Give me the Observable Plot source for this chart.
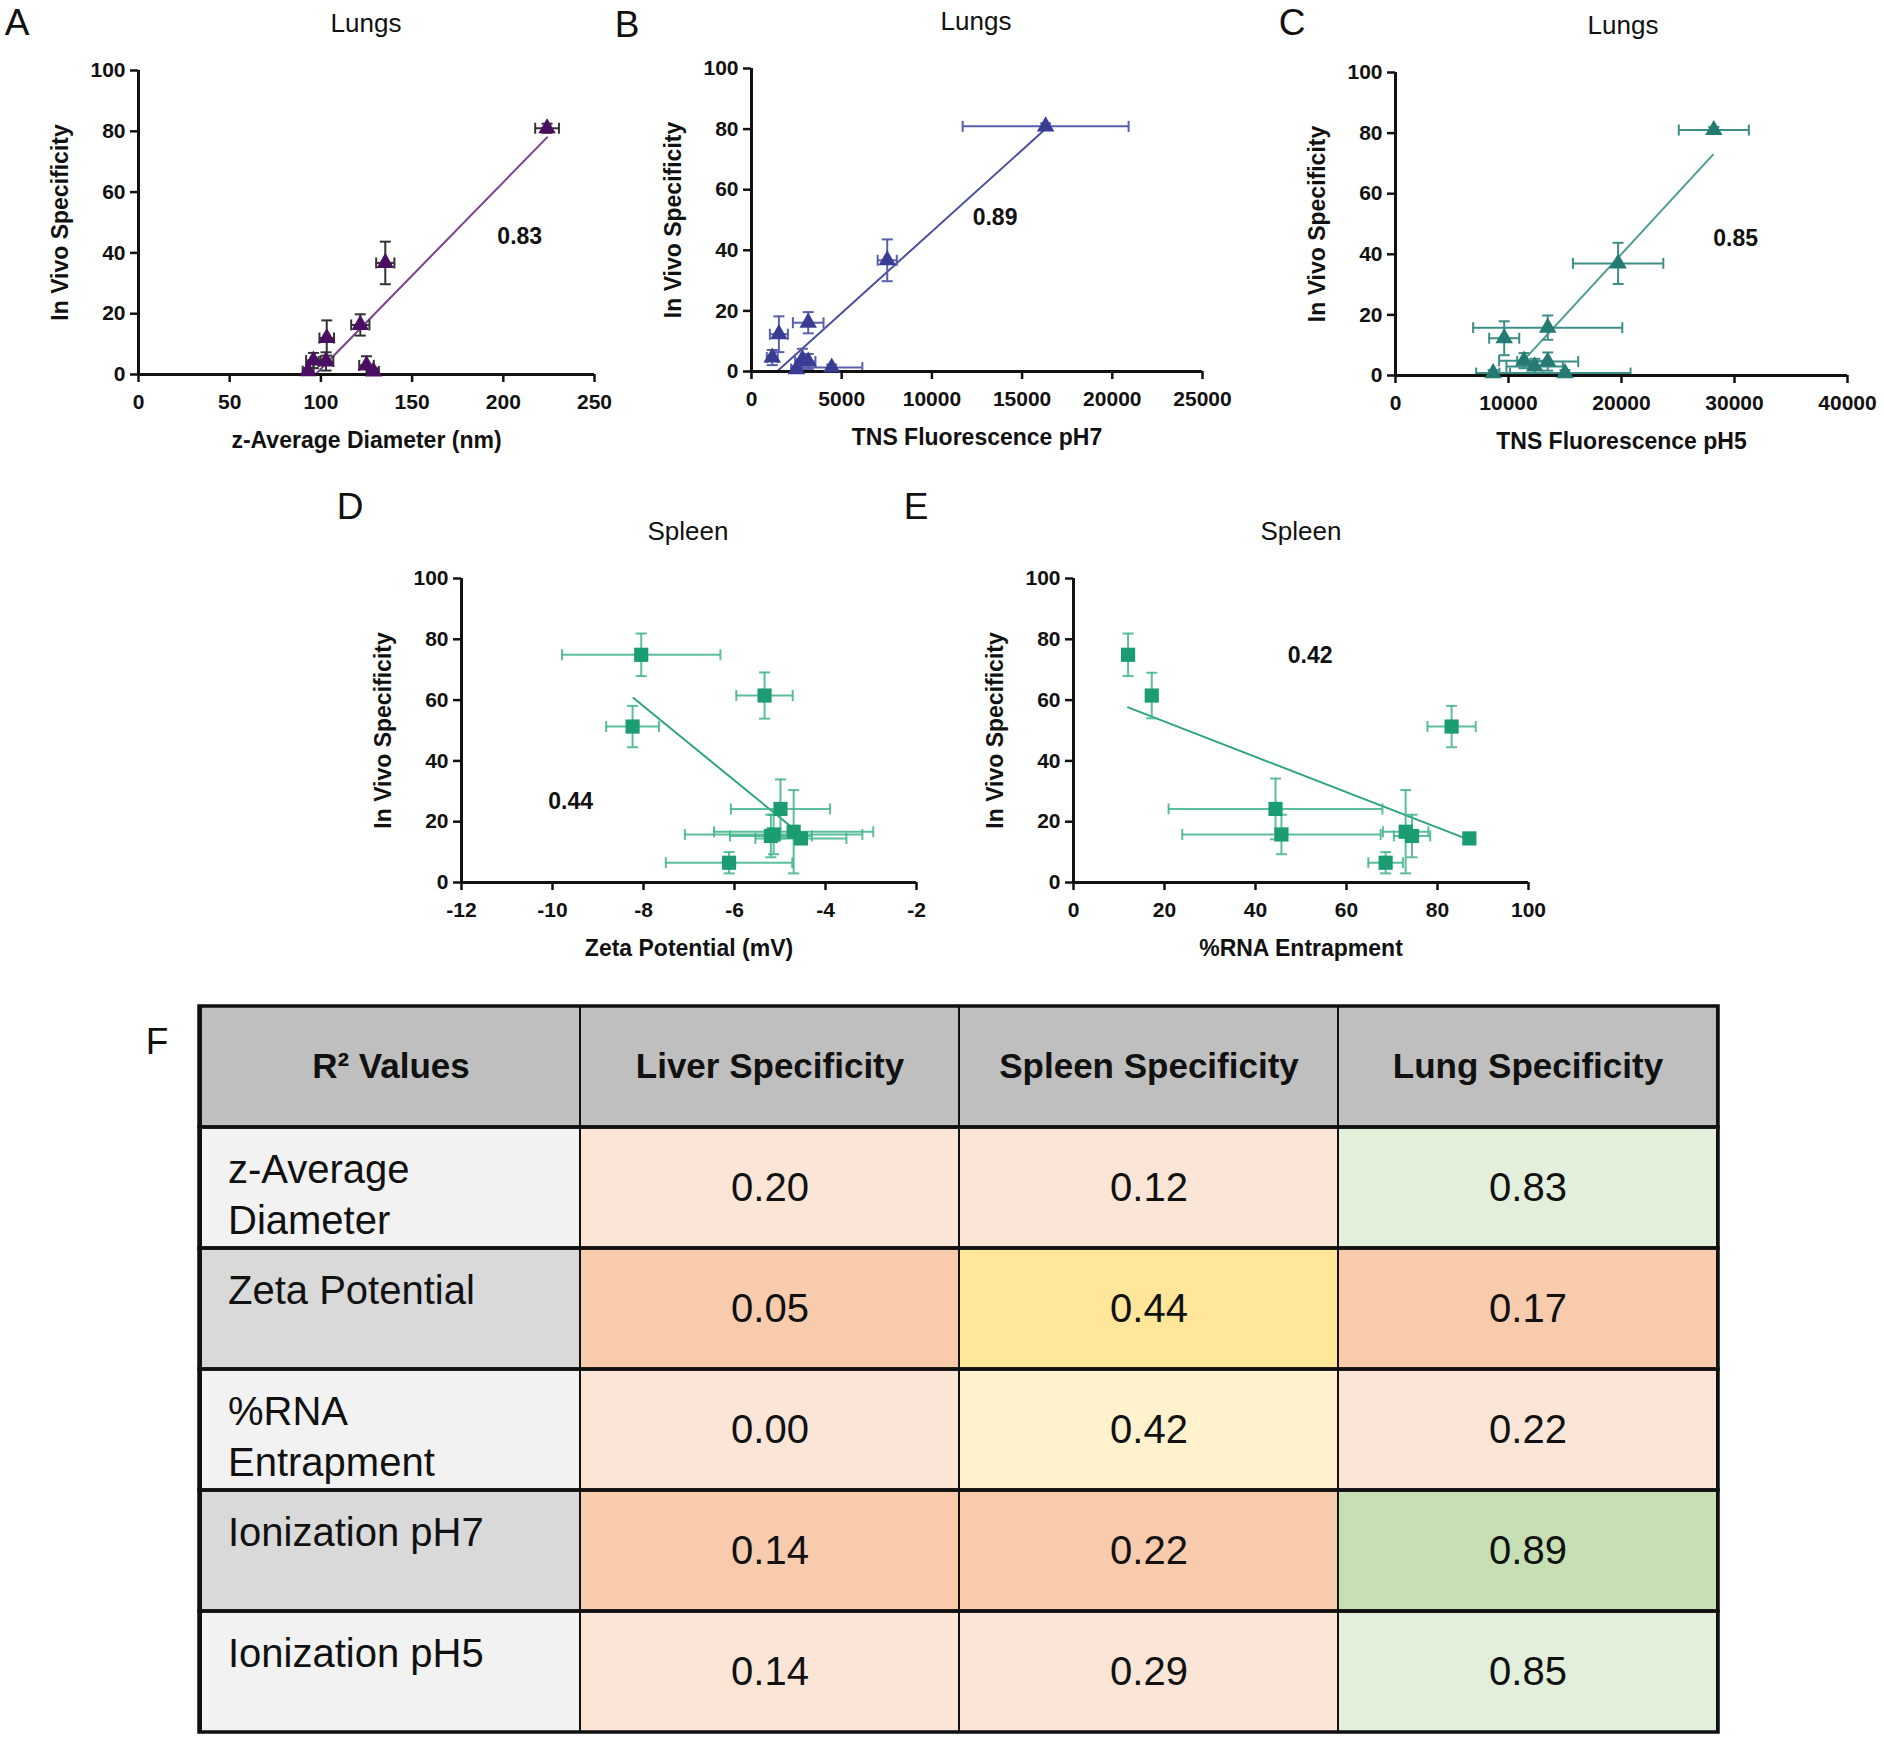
<!DOCTYPE html>
<html>
<head>
<meta charset="utf-8">
<script src="https://cdn.jsdelivr.net/npm/d3@7"></script>
<script src="https://cdn.jsdelivr.net/npm/@observablehq/plot@0.6"></script>
<style>
  body { margin: 0; background: #fff; }
  #root { position: relative; width: 1884px; height: 1739px; overflow: hidden; font-family: "Liberation Sans", Arial, sans-serif; color: #111; }
  .lbl { position: absolute; transform: translate(-50%, -50%); white-space: nowrap; line-height: 1; }
  .panel { position: absolute; }
  .panel svg { max-width: none !important; overflow: visible; }
</style>
</head>
<body>
<div id="root"></div>
<script>
// ---------------- DATA ----------------
const yTicks = [0, 20, 40, 60, 80, 100];
const yAxisLabel = "In Vivo Specificity";

// Panel A – Lungs vs z-Average Diameter
const aTicks = [0, 50, 100, 150, 200, 250];
const aX    = [224, 135.3, 121.6, 103.2, 95.9, 102.8, 93, 125, 128.8];
const aY    = [81, 36.7, 16.3, 12, 4.6, 4.3, 1.1, 3, 1];
const aXErr = [6.5, 5, 5, 4, 4, 4, 3, 4, 3];
const aYErr = [1.5, 7, 3.5, 5.8, 2.5, 3, 1, 3, 1];
const aFitX = [97, 224];
const aFitY = [0, 78];

// Panel B – Lungs vs TNS Fluorescence pH7
const bTicks = [0, 5000, 10000, 15000, 20000, 25000];
const bX    = [16305, 7524, 3144, 1518, 1149, 2819, 3144, 2494, 4445];
const bY    = [80.9, 36.7, 16.1, 12.3, 4.6, 4, 3.3, 0.8, 1.3];
const bXErr = [4600, 530, 850, 500, 300, 400, 400, 300, 1700];
const bYErr = [1, 6.9, 3.5, 5.9, 2.5, 3.5, 2.5, 1, 1];
const bFitX = [1409, 16305];
const bFitY = [0, 80.1];

// Panel C – Lungs vs TNS Fluorescence pH5
const cTicks = [0, 10000, 20000, 30000, 40000];
const cX    = [28170, 19700, 13470, 9620, 11370, 13470, 12320, 8640, 15000];
const cY    = [81, 37, 15.8, 12.3, 4.9, 4.6, 3, 0.8, 0.8];
const cXErr = [3100, 4000, 6600, 1330, 2200, 2700, 2500, 1500, 5800];
const cYErr = [1, 6.8, 4, 5.6, 2.5, 3, 2.5, 1, 1];
const cFitX = [11700, 28100];
const cFitY = [6.5, 72.9];

// Panel D – Spleen vs Zeta Potential
const dTicks = [-12, -10, -8, -6, -4, -2];
const dX    = [-8.05, -5.34, -8.24, -4.99, -5.14, -4.7, -5.2, -4.54, -6.12];
const dY    = [74.9, 61.5, 51.3, 24.2, 15.8, 16.7, 15.3, 14.5, 6.5];
const dXErr = [1.74, 0.62, 0.58, 1.09, 1.95, 1.75, 0.9, 1.0, 1.39];
const dYErr = [7, 7.6, 6.8, 9.7, 6.5, 13.7, 7, 1, 3.5];
const dFitX = [-8.22, -4.76];
const dFitY = [60.7, 18.4];

// Panel E – Spleen vs %RNA Entrapment
const eTicks = [0, 20, 40, 60, 80, 100];
const eX    = [12, 17.2, 83.1, 44.4, 45.7, 73, 74.4, 87, 68.6];
const eY    = [74.9, 61.5, 51.3, 24.2, 15.8, 16.7, 15.3, 14.5, 6.5];
const eXErr = [1.2, 1, 5.3, 23.5, 21.8, 5, 4, 1.2, 3.8];
const eYErr = [7, 7.5, 6.8, 10, 6.5, 13.7, 7, 1, 3.5];
const eFitX = [12, 86.7];
const eFitY = [57.6, 14.2];

// Table F – R² values
const tableCols = ["R² Values", "Liver Specificity", "Spleen Specificity", "Lung Specificity"];
const tableRows = ["z-Average\nDiameter", "Zeta Potential", "%RNA\nEntrapment", "Ionization pH7", "Ionization pH5"];
const liverR2  = [0.20, 0.05, 0.00, 0.14, 0.14];
const spleenR2 = [0.12, 0.44, 0.42, 0.22, 0.29];
const lungR2   = [0.83, 0.17, 0.22, 0.89, 0.85];

// ---------------- RENDER ----------------
const root = document.getElementById("root");
const FONT = "'Liberation Sans', Arial, sans-serif";

function addLabel(text, x, y, size, weight) {
  const d = document.createElement("div");
  d.className = "lbl";
  d.textContent = text;
  d.style.left = x + "px";
  d.style.top = y + "px";
  d.style.fontSize = size + "px";
  d.style.fontWeight = weight || "normal";
  root.appendChild(d);
}

const capH = { draw(ctx, size) { const r = Math.sqrt(size / Math.PI); ctx.moveTo(-r, 0); ctx.lineTo(r, 0); } };
const capV = { draw(ctx, size) { const r = Math.sqrt(size / Math.PI); ctx.moveTo(0, -r); ctx.lineTo(0, r); } };

function scatterPanel(cfg) {
  const [x0, x1, yB, yT] = cfg.frame;
  const mL = 130, mR = 38, mT = 30, mB = 90;
  const W = (x1 - x0) + mL + mR, H = (yB - yT) + mT + mB;
  const data = cfg.xs.map((x, i) => ({ x, y: cfg.ys[i], xe: cfg.xerr[i], ye: cfg.yerr[i] }));
  const fit = cfg.fitX.map((x, i) => ({ x, y: cfg.fitY[i] }));
  const xd = [cfg.ticks[0], cfg.ticks[cfg.ticks.length - 1]];
  const errStyle = { stroke: cfg.err, strokeWidth: 2, strokeOpacity: cfg.errOpacity ?? 1 };
  const svg = Plot.plot({
    width: W, height: H,
    marginLeft: mL, marginRight: mR, marginTop: mT, marginBottom: mB,
    x: { domain: xd },
    y: { domain: [0, 100] },
    style: { fontFamily: FONT, background: "transparent", overflow: "visible", maxWidth: "none", color: "#111" },
    marks: [
      Plot.axisX({ ticks: cfg.ticks, tickFormat: d => String(d), tickSize: 8, tickPadding: 12, fontSize: 21, fontWeight: "bold", strokeWidth: 2.5, label: null }),
      Plot.axisY({ ticks: yTicks, tickFormat: d => String(d), tickSize: 8, tickPadding: 5, fontSize: 21, fontWeight: "bold", strokeWidth: 2.5, label: null }),
      Plot.text([cfg.xLabel], { text: d => d, frameAnchor: "bottom", textAnchor: "middle", lineAnchor: "middle", dy: 66, fontSize: 23, fontWeight: "bold" }),
      Plot.text([yAxisLabel], { text: d => d, frameAnchor: "left", textAnchor: "middle", lineAnchor: "middle", rotate: -90, dx: -78, fontSize: 23, fontWeight: "bold" }),
      Plot.line(fit, { x: "x", y: "y", stroke: cfg.line, strokeWidth: 2 }),
      Plot.ruleX(data, { x: "x", y1: d => d.y - d.ye, y2: d => d.y + d.ye, ...errStyle, clip: true }),
      Plot.ruleY(data, { y: "y", x1: d => d.x - d.xe, x2: d => d.x + d.xe, ...errStyle, clip: true }),
      Plot.dot(data, { x: "x", y: d => d.y + d.ye, symbol: capH, r: 5.5, fill: "none", ...errStyle, clip: true }),
      Plot.dot(data, { x: "x", y: d => d.y - d.ye, symbol: capH, r: 5.5, fill: "none", ...errStyle, clip: true }),
      Plot.dot(data, { x: d => d.x + d.xe, y: "y", symbol: capV, r: 5.5, fill: "none", ...errStyle, clip: true }),
      Plot.dot(data, { x: d => d.x - d.xe, y: "y", symbol: capV, r: 5.5, fill: "none", ...errStyle, clip: true }),
      Plot.ruleY([0], { stroke: "#111", strokeWidth: 3 }),
      Plot.ruleX([xd[0]], { stroke: "#111", strokeWidth: 3 }),
      Plot.dot(data, { x: "x", y: "y", symbol: cfg.symbol, r: cfg.r, fill: cfg.marker, stroke: "none" }),
      Plot.text([cfg.r2], { text: d => d, x: cfg.r2At[0], y: cfg.r2At[1], fontSize: 23, fontWeight: "bold", fill: "#111" })
    ]
  });
  const div = document.createElement("div");
  div.className = "panel";
  div.style.left = (x0 - mL) + "px";
  div.style.top = (yT - mT) + "px";
  div.style.width = W + "px";
  div.style.height = H + "px";
  div.appendChild(svg);
  root.appendChild(div);
}

const lungTri = { symbol: "triangle", r: 6.5 };
const spleenSq = { symbol: "square", r: 8 };

scatterPanel({ frame: [138, 594, 374, 70], ticks: aTicks, xs: aX, ys: aY, xerr: aXErr, yerr: aYErr, fitX: aFitX, fitY: aFitY,
  xLabel: "z-Average Diameter (nm)", r2: "0.83", r2At: [209, 45.5], ...lungTri,
  marker: "#4a0f62", err: "#333333", line: "#7a3f8f" });
scatterPanel({ frame: [751, 1202, 371, 68], ticks: bTicks, xs: bX, ys: bY, xerr: bXErr, yerr: bYErr, fitX: bFitX, fitY: bFitY,
  xLabel: "TNS Fluorescence pH7", r2: "0.89", r2At: [13500, 50.8], ...lungTri,
  marker: "#383c93", err: "#5a5ead", line: "#4b4f9f" });
scatterPanel({ frame: [1395, 1847, 375, 72], ticks: cTicks, xs: cX, ys: cY, xerr: cXErr, yerr: cYErr, fitX: cFitX, fitY: cFitY,
  xLabel: "TNS Fluorescence pH5", r2: "0.85", r2At: [30100, 45.2], ...lungTri,
  marker: "#267a74", err: "#3d8e88", line: "#4f9d96" });
scatterPanel({ frame: [461, 916, 882, 578], ticks: dTicks, xs: dX, ys: dY, xerr: dXErr, yerr: dYErr, fitX: dFitX, fitY: dFitY,
  xLabel: "Zeta Potential (mV)", r2: "0.44", r2At: [-9.6, 26.5], ...spleenSq,
  marker: "#1c9c72", err: "#3fb389", errOpacity: 0.85, line: "#2fa47c" });
scatterPanel({ frame: [1073, 1528, 882, 578], ticks: eTicks, xs: eX, ys: eY, xerr: eXErr, yerr: eYErr, fitX: eFitX, fitY: eFitY,
  xLabel: "%RNA Entrapment", r2: "0.42", r2At: [52, 74.7], ...spleenSq,
  marker: "#1c9c72", err: "#3fb389", errOpacity: 0.85, line: "#2fa47c" });

// Panel letters and titles
addLabel("A", 17, 22, 37);
addLabel("B", 627, 24, 37);
addLabel("C", 1292, 22, 37);
addLabel("D", 350, 506, 37);
addLabel("E", 916, 506, 37);
addLabel("F", 157, 1041, 37);
addLabel("Lungs", 366, 23, 26);
addLabel("Lungs", 976, 21, 26);
addLabel("Lungs", 1623, 25, 26);
addLabel("Spleen", 688, 531, 26);
addLabel("Spleen", 1301, 531, 26);

// ---------------- TABLE ----------------
const tier = v => v >= 0.8 ? "high" : v >= 0.4 ? "mid" : "low";
const cells = [];
tableCols.forEach(c => cells.push({ col: c, row: "header", key: "header", text: c, kind: "header" }));
tableRows.forEach((r, i) => {
  const shade = i % 2 ? "dark" : "light";
  cells.push({ col: tableCols[0], row: r, key: "label-" + shade, text: r, kind: "label" });
  [liverR2, spleenR2, lungR2].forEach((arr, j) => {
    const v = arr[i];
    cells.push({ col: tableCols[j + 1], row: r, key: tier(v) + "-" + shade, text: v.toFixed(2), kind: "value" });
  });
});
const rowDomain = ["header", ...tableRows];
const tL = 190, tT = 995, tW = 1540, tH = 744;
const tableSvg = Plot.plot({
  width: tW, height: tH,
  marginLeft: 9, marginRight: 12, marginTop: 8, marginBottom: 5,
  x: { type: "band", domain: tableCols, padding: 0, axis: null },
  y: { type: "band", domain: rowDomain, padding: 0, axis: null },
  color: {
    type: "ordinal",
    domain: ["header", "label-light", "label-dark", "low-light", "low-dark", "mid-light", "mid-dark", "high-light", "high-dark"],
    range:  ["#bfbfbf", "#f2f2f2", "#d9d9d9", "#fbe5d6", "#f8cbad", "#fff2cc", "#ffe699", "#e2efda", "#c6e0b4"]
  },
  style: { fontFamily: FONT, background: "transparent", overflow: "visible", maxWidth: "none", color: "#111" },
  marks: [
    Plot.cell(cells, { x: "col", y: "row", fill: "key" }),
    Plot.cell(cells, { x: "col", y: "row", fill: "none", stroke: "#111", strokeWidth: 2 }),
    Plot.cell(rowDomain, { y: d => d, fill: "none", stroke: "#111", strokeWidth: 3.5 }),
    Plot.text(cells.filter(d => d.kind === "header"), { x: "col", y: "row", text: "text", fontSize: 35, fontWeight: "bold", fill: "#111" }),
    Plot.text(cells.filter(d => d.kind === "value"), { x: "col", y: "row", text: "text", fontSize: 40, fill: "#111" }),
    Plot.text(cells.filter(d => d.kind === "label"), { x: "col", y: "row", text: "text", textAnchor: "start", lineAnchor: "top", dx: -163, dy: -41, fontSize: 40, lineHeight: 1.27, fill: "#111" })
  ]
});
const tdiv = document.createElement("div");
tdiv.className = "panel";
tdiv.style.left = tL + "px";
tdiv.style.top = tT + "px";
tdiv.style.width = tW + "px";
tdiv.style.height = tH + "px";
tdiv.appendChild(tableSvg);
root.appendChild(tdiv);
</script>
</body>
</html>
